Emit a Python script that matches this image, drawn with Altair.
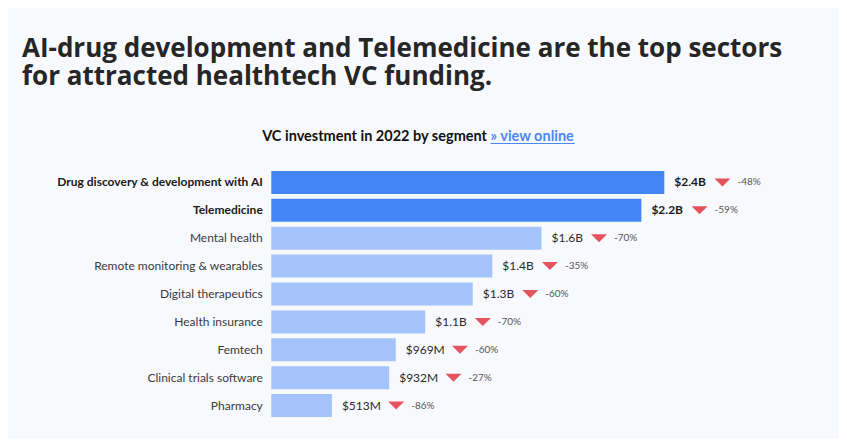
import altair as alt
import pandas as pd

# ---------------- data ----------------
segments = [
    "Drug discovery & development with AI",
    "Telemedicine",
    "Mental health",
    "Remote monitoring & wearables",
    "Digital therapeutics",
    "Health insurance",
    "Femtech",
    "Clinical trials software",
    "Pharmacy",
]
# bar lengths as drawn (in $B)
bar_values_b = [2.40, 2.26, 1.65, 1.35, 1.23, 0.94, 0.76, 0.72, 0.37]
value_labels = ["$2.4B", "$2.2B", "$1.6B", "$1.4B", "$1.3B", "$1.1B", "$969M", "$932M", "$513M"]
change_labels = ["-48%", "-59%", "-70%", "-35%", "-60%", "-70%", "-60%", "-27%", "-86%"]
highlighted = ["Drug discovery & development with AI", "Telemedicine"]

title_lines = [
    "AI-drug development and Telemedicine are the top sectors",
    "for attracted healthtech VC funding.",
]
subtitle_main = "VC investment in 2022 by segment"
subtitle_link = "» view online"

# ---------------- layout helpers ----------------
FONT = "Lato"
TITLE_FONT = "Open Sans"
VAL_FS = 12
PCT_FS = 10
PLOT_W = 550
PLOT_H = 251
PX_PER_B = 393 / 2.4
X_MAX = PLOT_W / PX_PER_B

CW = {"$": 0.58, ".": 0.26, "B": 0.63, "M": 0.87}


def text_w(s, size, bold=False):
    w = 0.0
    for ch in s:
        if ch.isdigit():
            w += 0.58
        else:
            w += CW.get(ch, 0.55)
    return w * size * (1.02 if bold else 1.0)


rows = []
for seg, v, lab, ch in zip(segments, bar_values_b, value_labels, change_labels):
    bold = seg in highlighted
    lw = text_w(lab, VAL_FS, bold)
    tri_left = 10 + lw + 8
    rows.append(
        dict(
            segment=seg,
            value=v,
            label=lab,
            change=ch,
            hl="yes" if bold else "no",
            tri_x=v + (tri_left + 8) / PX_PER_B,
            pct_x=v + (tri_left + 16 + 7) / PX_PER_B,
        )
    )
df = pd.DataFrame(rows)

x_scale = alt.Scale(domain=[0, X_MAX], nice=False, zero=True)
hl_test = "indexof(%s, datum.value) >= 0" % str(highlighted)
y_enc = alt.Y(
    "segment:N",
    sort=segments,
    scale=alt.Scale(paddingInner=0.175, paddingOuter=0.0875),
    axis=alt.Axis(
        title=None,
        ticks=False,
        domain=False,
        labelPadding=9,
        labelLimit=400,
        labelFontSize=12,
        labelFont=FONT,
        labelColor={"condition": {"test": hl_test, "value": "#1a1a1a"}, "value": "#3a3a3a"},
        labelFontWeight={"condition": {"test": hl_test, "value": "bold"}, "value": "normal"},
    ),
)

base = alt.Chart(df)

bars = base.mark_bar().encode(
    x=alt.X("value:Q", scale=x_scale, axis=None),
    y=y_enc,
    color=alt.Color(
        "hl:N",
        scale=alt.Scale(domain=["yes", "no"], range=["#4285f4", "#a4c3fb"]),
        legend=None,
    ),
)

val_bold = base.transform_filter("datum.hl == 'yes'").mark_text(
    align="left", baseline="middle", dx=10, fontSize=VAL_FS, fontWeight="bold", color="#1a1a1a", font=FONT
).encode(x=alt.X("value:Q", scale=x_scale), y=alt.Y("segment:N", sort=segments), text="label:N")

val_norm = base.transform_filter("datum.hl == 'no'").mark_text(
    align="left", baseline="middle", dx=10, fontSize=VAL_FS, color="#2a2a2a", font=FONT
).encode(x=alt.X("value:Q", scale=x_scale), y=alt.Y("segment:N", sort=segments), text="label:N")

tri = base.mark_point(
    shape="M-1,-0.5L1,-0.5L0,0.5Z", filled=True, size=256, color="#e5535f", opacity=1, strokeWidth=0
).encode(x=alt.X("tri_x:Q", scale=x_scale), y=alt.Y("segment:N", sort=segments))

pct = base.mark_text(
    align="left", baseline="middle", fontSize=PCT_FS, color="#555555", font=FONT
).encode(x=alt.X("pct_x:Q", scale=x_scale), y=alt.Y("segment:N", sort=segments), text="change:N")

one = pd.DataFrame({"a": [0]})

title = alt.Chart(one).mark_text(
    align="left", baseline="alphabetic", fontSize=26, fontWeight="bold", color="#262626",
    font=TITLE_FONT, lineHeight=28,
).encode(x=alt.value(-249.3), y=alt.value(-112.0), text=alt.value(title_lines))

sub_main = alt.Chart(one).mark_text(
    align="right", baseline="alphabetic", fontSize=14.5, fontWeight="bold", color="#111111", font=FONT
).encode(x=alt.value(215.7), y=alt.value(-27.5), text=alt.value(subtitle_main))
sub_link = alt.Chart(one).mark_text(
    align="left", baseline="alphabetic", fontSize=14.5, fontWeight="bold", color="#4a88f5", font=FONT
).encode(x=alt.value(219.2), y=alt.value(-27.5), text=alt.value(subtitle_link))
underline = alt.Chart(one).mark_rule(color="#4a88f5", strokeWidth=1.2).encode(
    x=alt.value(219.2), x2=alt.value(303.5), y=alt.value(-25.0)
)

chart = (
    alt.layer(bars, val_bold, val_norm, tri, pct, title, sub_main, sub_link, underline)
    .properties(
        width=PLOT_W,
        height=PLOT_H,
        autosize="none",
        padding={"left": 263.3, "top": 160.5, "right": 17.7, "bottom": 19.5},
        background="#f8f9fd",
    )
    .configure(font=FONT)
    .configure_view(strokeWidth=0, stroke="transparent")
)

chart.save("out.html", embed_options={"renderer": "svg", "actions": False})
